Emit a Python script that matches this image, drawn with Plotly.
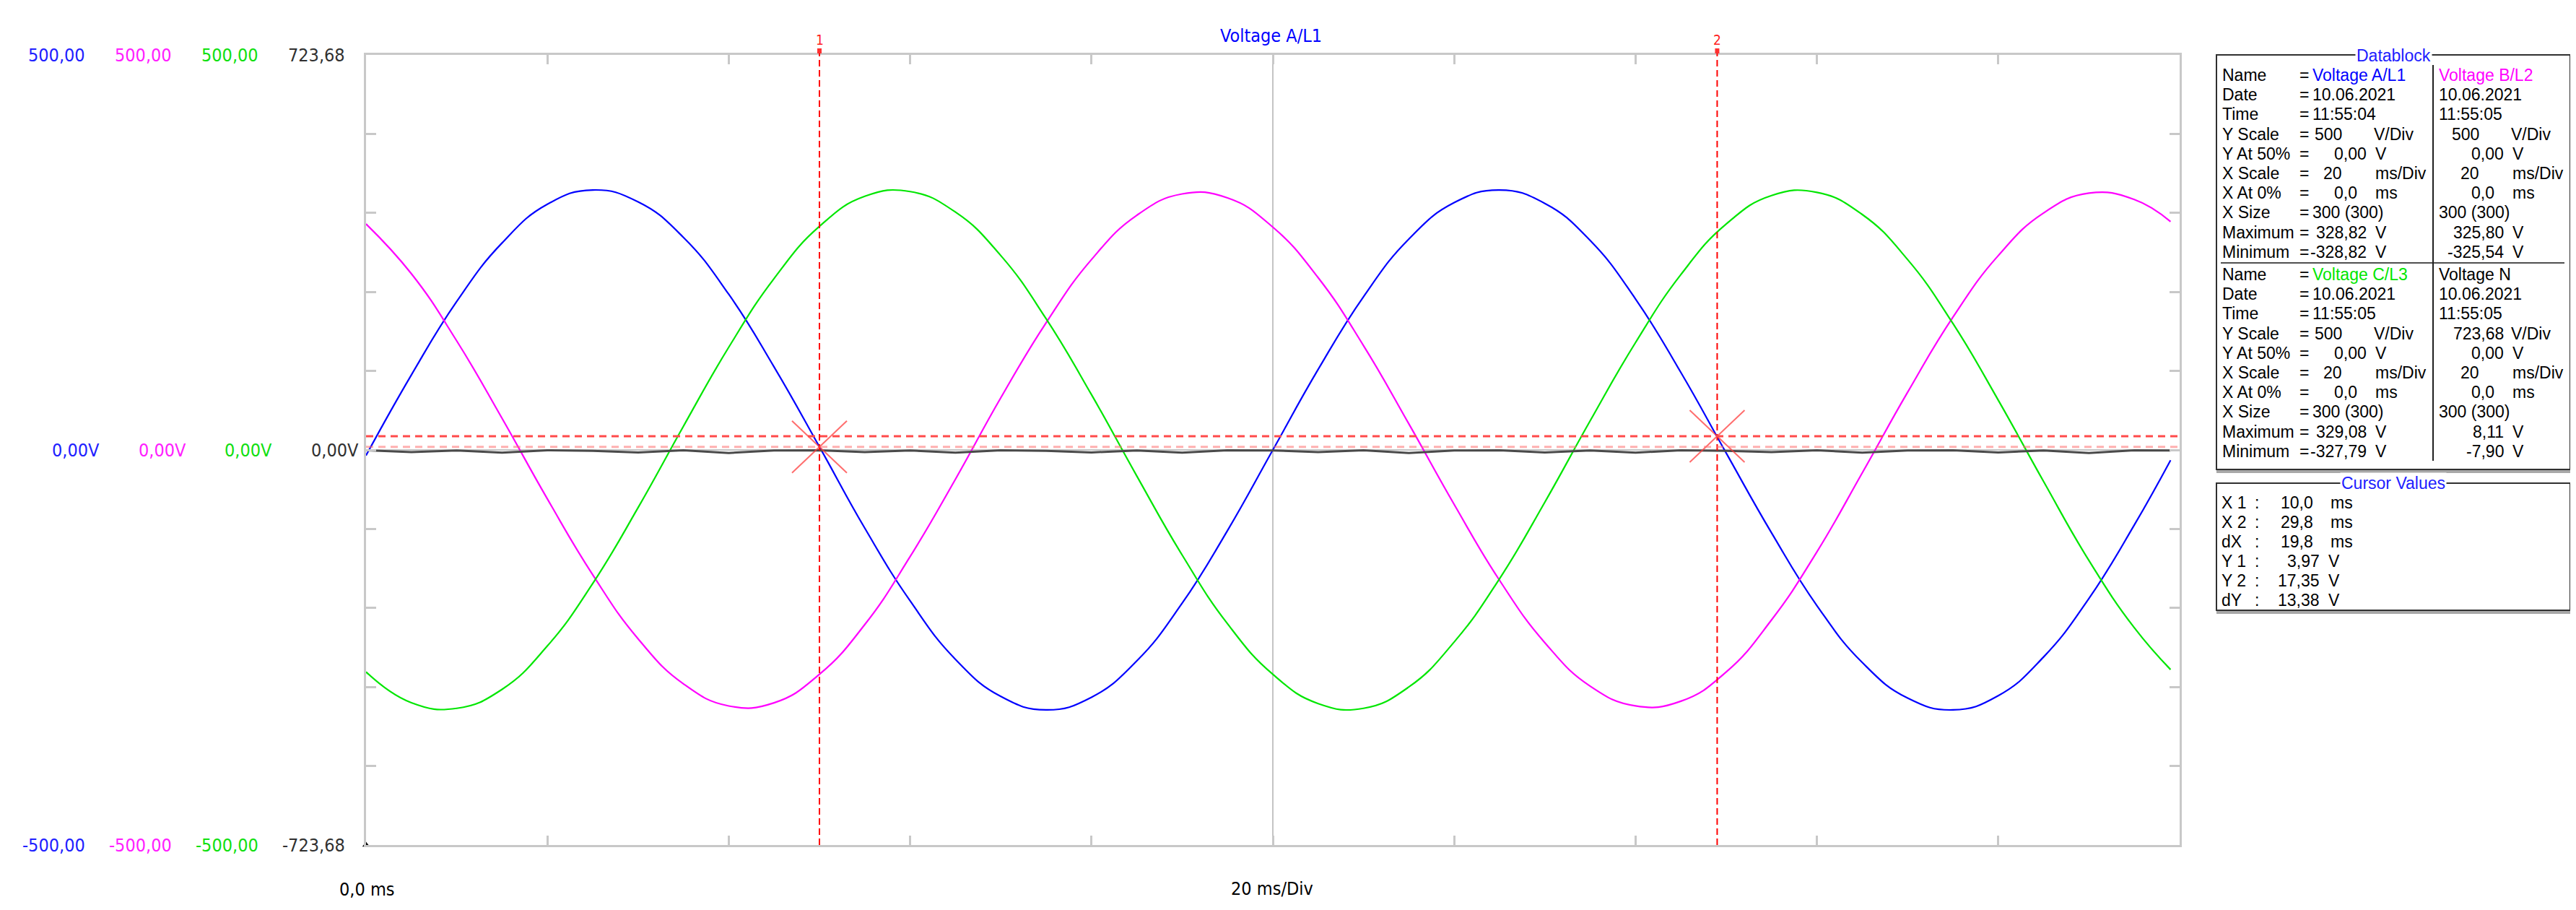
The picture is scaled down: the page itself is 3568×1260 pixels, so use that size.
import plotly.graph_objects as go

# time axis (ms) and the four voltage channels
t_ms = [0, 1, 2, 3, 4, 5, 6, 7, 8, 9, 10, 11, 12, 13, 14, 15, 16, 17, 18, 19,
        20, 21, 22, 23, 24, 25, 26, 27, 28, 29, 30, 31, 32, 33, 34, 35, 36, 37, 38, 39, 39.8]
volt_a = [-7, 95, 188, 262, 311, 329, 314, 269, 197, 105, 4, -99, -191, -265, -312, -329, -313, -267, -194, -102,
          0, 102, 194, 267, 313, 329, 312, 265, 191, 98, -4, -105, -197, -269, -314, -329, -311, -262, -188, -95, -13]
volt_b = [286, 223, 138, 40, -62, -158, -239, -296, -324, -320, -284, -221, -135, -37, 66, 161, 241, 297, 324, 319,
          282, 218, 132, 33, -69, -165, -244, -299, -324, -318, -281, -215, -129, -29, 73, 168, 246, 300, 325, 317, 289]
volt_c = [-281, -320, -327, -303, -248, -169, -73, 30, 130, 217, 283, 321, 327, 301, 246, 166, 70, -33, -133, -220,
          -284, -321, -327, -300, -243, -163, -66, 37, 136, 222, 286, 322, 326, 298, 241, 160, 63, -40, -140, -225, -278]
volt_n = [-0.5, -4.0, -1.0, -5.0, -0.5, -1.5, -4.5, -0.5, -5.5, -1.0, -0.5, -4.0, -1.0, -5.0, -0.5, -1.5, -4.5, -1.0, -5.0, -0.5,
          -1.0, -4.0, -0.5, -5.5, -1.0, -0.5, -4.5, -1.0, -5.0, -0.5, -1.5, -4.0, -0.5, -5.0, -1.0, -0.5, -4.5, -1.0, -5.5, -0.5, -1.0]

channels = ["Voltage A/L1", "Voltage B/L2", "Voltage C/L3", "Voltage N"]
ch_colors = ["#0000ff", "#ff00ff", "#00e600", "#000000"]
label_colors = ["#2020ff", "#ff20ff", "#10e010", "#303030"]
scale_top = ["500,00", "500,00", "500,00", "723,68"]
scale_mid = ["0,00V", "0,00V", "0,00V", "0,00V"]
scale_bot = ["-500,00", "-500,00", "-500,00", "-723,68"]

dates = ["10.06.2021", "10.06.2021", "10.06.2021", "10.06.2021"]
times = ["11:55:04", "11:55:05", "11:55:05", "11:55:05"]
y_scale = ["500", "500", "500", "723,68"]
y_at50 = ["0,00", "0,00", "0,00", "0,00"]
x_scale = ["20", "20", "20", "20"]
x_at0 = ["0,0", "0,0", "0,0", "0,0"]
x_size = ["300 (300)", "300 (300)", "300 (300)", "300 (300)"]
maxima = ["328,82", "325,80", "329,08", "8,11"]
minima = ["-328,82", "-325,54", "-327,79", "-7,90"]
row_names = ["Name", "Date", "Time", "Y Scale", "Y At 50%", "X Scale", "X At 0%", "X Size", "Maximum", "Minimum"]

cursor_x = [10.0, 29.8]
cursor_y = [3.97, 17.35]
cursor_labels = ["X 1", "X 2", "dX", "Y 1", "Y 2", "dY"]
cursor_vals = ["10,0", "29,8", "19,8", "3,97", "17,35", "13,38"]
cursor_units = ["ms", "ms", "ms", "V", "V", "V"]

# plot area in page pixels
L, R, T, B = 499, 3011, 68, 1162
W, H = R - L, B - T


def px(x):
    return (x - L) / W


def py(y):
    return (B - y) / H


NARROW = "Liberation Sans Narrow, Arial Narrow, DejaVu Sans Condensed, sans-serif"
SANS = "Liberation Sans, Arial, sans-serif"

fig = go.Figure()
for vals, col, name in zip([volt_a, volt_b, volt_c], ch_colors[:3], channels[:3]):
    fig.add_trace(go.Scatter(x=t_ms, y=vals, mode="lines", name=name,
                             line=dict(color=col, width=2.2, shape="spline", smoothing=1.3)))
fig.add_trace(go.Scatter(x=t_ms, y=volt_n, mode="lines", name=channels[3], yaxis="y2",
                         line=dict(color="#4a4a4a", width=3)))
# little corner marker
fig.add_trace(go.Scatter(x=[0], y=[-500], mode="markers", cliponaxis=False,
                         marker=dict(symbol="triangle-up", size=9, color="#000000")))

shapes = []
grid = dict(color="#c4c4c4", width=2)
shapes.append(dict(type="line", xref="x", yref="paper", x0=20, x1=20, y0=0, y1=1, line=grid, layer="below"))
shapes.append(dict(type="line", xref="paper", yref="y", x0=0, x1=1, y0=0, y1=0, line=grid, layer="below"))

# cursors
for cx, cy in zip(cursor_x, cursor_y):
    shapes.append(dict(type="line", xref="x", yref="paper", x0=cx, x1=cx, y0=0, y1=py(58),
                       line=dict(color="#ff0000", width=2, dash="9px,5px")))
    shapes.append(dict(type="rect", xref="x", yref="paper", xsizemode="pixel", xanchor=cx, x0=-3, x1=3,
                       y0=py(66), y1=py(59), line=dict(width=0), fillcolor="#ff3030"))
    for s in (1, -1):
        shapes.append(dict(type="line", xref="x", yref="y", xsizemode="pixel", ysizemode="pixel",
                           xanchor=cx, yanchor=cy, x0=-38, x1=38, y0=-36 * s, y1=36 * s,
                           line=dict(color="rgba(255,60,60,0.75)", width=2)))
shapes.append(dict(type="line", xref="paper", yref="y", x0=0, x1=1, y0=cursor_y[1], y1=cursor_y[1],
                   line=dict(color="#ff4a4a", width=3, dash="10px,7px")))
shapes.append(dict(type="line", xref="paper", yref="y", x0=0, x1=1, y0=cursor_y[0], y1=cursor_y[0],
                   line=dict(color="rgba(255,110,110,0.55)", width=3, dash="10px,7px")))

# datablock and cursor boxes
box = dict(color="#303030", width=2)
shapes.append(dict(type="line", xref="paper", yref="paper", x0=px(3062), x1=px(3553), y0=py(645), y1=py(645),
                   line=dict(color="#a8a8a8", width=4)))
shapes.append(dict(type="rect", xref="paper", yref="paper", x0=px(3062), x1=px(3552), y0=py(642), y1=py(68),
                   line=box))
shapes.append(dict(type="line", xref="paper", yref="paper", x0=px(3068), x1=px(3544), y0=py(356), y1=py(356),
                   line=dict(color="#505050", width=2)))
shapes.append(dict(type="line", xref="paper", yref="paper", x0=px(3362), x1=px(3362), y0=py(630), y1=py(82),
                   line=dict(color="#202020", width=2)))
shapes.append(dict(type="line", xref="paper", yref="paper", x0=px(3062), x1=px(3553), y0=py(840), y1=py(840),
                   line=dict(color="#a8a8a8", width=4)))
shapes.append(dict(type="rect", xref="paper", yref="paper", x0=px(3062), x1=px(3552), y0=py(837), y1=py(661),
                   line=box))

ann = []


def txt(x, y, text, color="#000000", size=23, family=SANS, xanchor="left", bg=None, yref="paper"):
    d = dict(x=px(x), y=py(y) if yref == "paper" else y, xref="paper", yref=yref, text=text, showarrow=False,
             xanchor=xanchor, yanchor="middle", font=dict(color=color, size=size, family=family))
    if bg:
        d["bgcolor"] = bg
    ann.append(d)


# y scale label columns
col_right_top = [112, 232, 352, 472]
col_right_mid = [132, 252, 371, 491]
for i in range(4):
    txt(col_right_top[i], 500, scale_top[i], label_colors[i], 25, NARROW, "right", yref="y")
    txt(col_right_mid[i], 0, scale_mid[i], label_colors[i], 25, NARROW, "right", yref="y")
    txt(col_right_top[i], -500, scale_bot[i], label_colors[i], 25, NARROW, "right", yref="y")

txt(1752, 42, channels[0], "#0000ff", 25, NARROW, "center")
txt(500, 1223, "0,0 ms", "#000000", 25, NARROW, "center")
txt(1754, 1222, "20 ms/Div", "#000000", 25, NARROW, "center")
for i, cx in enumerate(cursor_x):
    txt(L + cx / 40 * W, 47, str(i + 1), "#ff2020", 19, NARROW, "center")

# datablock text
txt(3307, 69, "Datablock", "#2020ff", 23, SANS, "center", bg="#ffffff")
blocks = [(0, 1, 96), (2, 3, 372)]
step = 27.2
for c_left, c_right, y0 in blocks:
    for r, name in enumerate(row_names):
        y = y0 + r * step
        txt(3068, y, name)
        txt(3175, y, "=")
    for ci, tb, nb in ((c_left, 0, 0), (c_right, 175, 190)):
        txt(3193 + tb, y0, channels[ci], ch_colors[ci])
        txt(3193 + tb, y0 + step, dates[ci])
        txt(3193 + tb, y0 + 2 * step, times[ci])
        ys_right = 3272 if "," in y_scale[ci] else 3238
        txt(ys_right + nb, y0 + 3 * step, y_scale[ci], xanchor="right")
        txt(3278 + nb, y0 + 3 * step, "V/Div")
        txt(3272 + nb, y0 + 4 * step, y_at50[ci], xanchor="right")
        txt(3280 + nb, y0 + 4 * step, "V")
        txt(3238 + nb, y0 + 5 * step, x_scale[ci], xanchor="right")
        txt(3280 + nb, y0 + 5 * step, "ms/Div")
        txt(3259 + nb, y0 + 6 * step, x_at0[ci], xanchor="right")
        txt(3280 + nb, y0 + 6 * step, "ms")
        txt(3193 + tb, y0 + 7 * step, x_size[ci])
        txt(3272 + nb, y0 + 8 * step, maxima[ci], xanchor="right")
        txt(3280 + nb, y0 + 8 * step, "V")
        txt(3272 + nb, y0 + 9 * step, minima[ci], xanchor="right")
        txt(3280 + nb, y0 + 9 * step, "V")

# cursor values
txt(3307, 661, "Cursor Values", "#2020ff", 23, SANS, "center", bg="#ffffff")
for i, (lab, val, unit) in enumerate(zip(cursor_labels, cursor_vals, cursor_units)):
    y = 688 + i * 27
    txt(3067, y, lab)
    txt(3113, y, ":")
    if unit == "ms":
        txt(3198, y, val, xanchor="right")
        txt(3218, y, unit)
    else:
        txt(3207, y, val, xanchor="right")
        txt(3215, y, unit)

axis_common = dict(showgrid=False, zeroline=False, showline=True, linecolor="#c8c8c8", linewidth=3,
                   mirror="ticks", ticks="inside", tickcolor="#c8c8c8", tickwidth=3, showticklabels=False)
fig.update_layout(
    width=3568, height=1260,
    margin=dict(l=L, r=3568 - R, t=T, b=1260 - B),
    paper_bgcolor="#ffffff", plot_bgcolor="#ffffff",
    showlegend=False,
    xaxis=dict(range=[0, 40], dtick=4, tick0=0, ticklen=13, **axis_common),
    yaxis=dict(range=[-500, 500], dtick=100, tick0=0, ticklen=14, **axis_common),
    yaxis2=dict(range=[-723.68, 723.68], overlaying="y", visible=False),
    shapes=shapes,
    annotations=ann,
)

fig.write_html("out.html")
